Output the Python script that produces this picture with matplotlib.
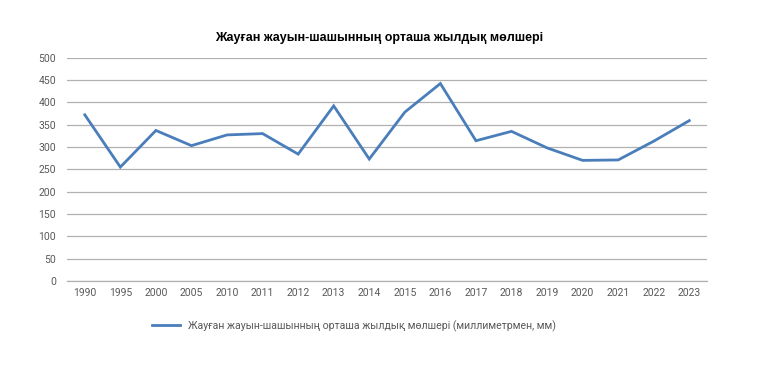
import matplotlib.pyplot as plt

years = ["1990", "1995", "2000", "2005", "2010", "2011", "2012", "2013", "2014",
         "2015", "2016", "2017", "2018", "2019", "2020", "2021", "2022", "2023"]
precip = [372, 255, 337, 303, 327, 330, 284, 392, 273,
          378, 442, 314, 335, 298, 270, 271, 313, 359]

title = "Жауған жауын-шашынның орташа жылдық мөлшері"
series_label = "Жауған жауын-шашынның орташа жылдық мөлшері (миллиметрмен, мм)"

plt.rcParams['font.family'] = ['Roboto', 'DejaVu Sans']

fig = plt.figure(figsize=(7.73, 3.65), dpi=100)
ax = fig.add_axes([0.0867, 0.2301, 0.828, 0.612])

x = list(range(len(years)))
ax.plot(x, precip, color='#4a7ebb', linewidth=2.0, label=series_label,
        solid_joinstyle='miter')

ax.set_xlim(-0.5, len(years) - 0.5)
ax.set_ylim(0, 500)
ax.set_yticks(range(0, 501, 50))
ax.set_xticks(x)
ax.set_xticklabels(years)
ax.tick_params(axis='both', length=0, labelsize=7.5, colors='#595959', pad=5)
ax.tick_params(axis='y', pad=8)

ax.grid(axis='y', color='#b0b0b0', linewidth=0.9)
ax.set_axisbelow(True)
for s in ['top', 'right', 'left']:
    ax.spines[s].set_visible(False)
ax.spines['bottom'].set_color('#b0b0b0')
ax.spines['bottom'].set_linewidth(0.9)

fig.text(0.49, 0.895, title, ha='center', va='center', fontsize=9,
         fontweight='bold', family=['Liberation Sans', 'DejaVu Sans'])

fig.legend(loc='center', bbox_to_anchor=(0.458, 0.107), frameon=False,
           fontsize=7.6, handlelength=2.6, labelcolor='#595959')

fig.savefig("out.png", dpi=100)
